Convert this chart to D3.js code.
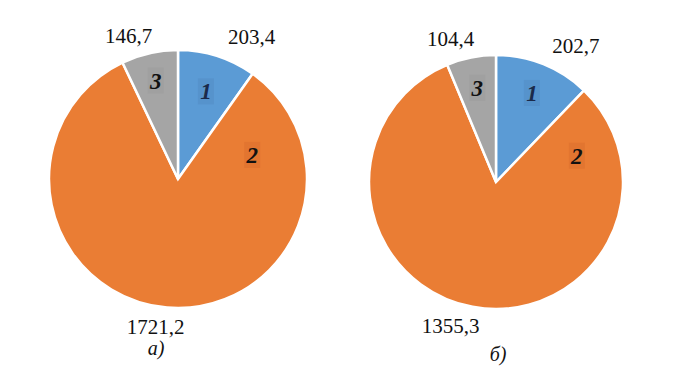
<!DOCTYPE html>
<html>
<head>
<meta charset="utf-8">
<script src="https://cdn.jsdelivr.net/npm/d3@7"></script>
<style>
  body { margin: 0; background: #fff; }
  svg text { font-family: "Liberation Serif", "Times New Roman", serif; }
</style>
</head>
<body>
<div id="wrapper"></div>
<script>
// slices: 1, 2, 3
const sliceNames = ["1", "2", "3"];
const valuesA = [203.4, 1721.2, 146.7];
const valuesB = [202.7, 1355.3, 104.4];
const captions = ["а)", "б)"];
const colors = ["#5b9bd5", "#ea7d34", "#a5a5a5"];
const labelBoxColors = ["#4f86bd", "#d8692a", "#989898"];

const dimension = { width: 687, height: 368 };

const svg = d3.select("#wrapper").append("svg")
    .attr("width", dimension.width)
    .attr("height", dimension.height);

// layout of each pie (centre, radius, label polar placements in degrees from top)
const charts = [
  {
    values: valuesA, caption: captions[0],
    cx: 178, cy: 179, r: 129,
    valuePos: [[27.4, 160], [188.6, 149], [-19, 152]],
    namePos: [null, [72, 78], null],
    nameR: [92, 0, 101],
    captionX: 156, captionY: 355
  },
  {
    values: valuesB, caption: captions[1],
    cx: 496, cy: 182, r: 127,
    valuePos: [[30.4, 158], [197.5, 151], [-17.6, 150]],
    namePos: [null, [72, 85], null],
    nameR: [96, 0, 96],
    captionX: 498, captionY: 361
  }
];

const fmt = v => d3.format(".1f")(v).replace(".", ",");
const polar = (deg, rad) => {
  const a = deg * Math.PI / 180;
  return [Math.sin(a) * rad, -Math.cos(a) * rad];
};

charts.forEach(c => {
  const pie = d3.pie().sort(null).value(d => d);
  const arcs = pie(c.values);
  const arc = d3.arc().innerRadius(0).outerRadius(c.r);

  const g = svg.append("g")
      .attr("transform", `translate(${c.cx},${c.cy})`);

  g.selectAll("path")
    .data(arcs)
    .join("path")
      .attr("d", arc)
      .attr("fill", (d, i) => colors[i])
      .attr("stroke", "#fff")
      .attr("stroke-width", 2.5);

  // value labels outside
  g.selectAll("text.val")
    .data(arcs)
    .join("text")
      .attr("class", "val")
      .attr("x", (d, i) => polar(c.valuePos[i][0], c.valuePos[i][1])[0])
      .attr("y", (d, i) => polar(c.valuePos[i][0], c.valuePos[i][1])[1])
      .attr("dy", "0.35em")
      .attr("text-anchor", "middle")
      .attr("font-size", 21)
      .attr("fill", "#111")
      .text(d => fmt(d.data));

  // slice number labels inside
  arcs.forEach((d, i) => {
    let p;
    if (c.namePos[i]) {
      p = polar(c.namePos[i][0], c.namePos[i][1]);
    } else {
      const mid = (d.startAngle + d.endAngle) / 2 * 180 / Math.PI;
      p = polar(mid, c.nameR[i]);
    }
    g.append("rect")
      .attr("x", p[0] - 8)
      .attr("y", p[1] - 13)
      .attr("width", 16)
      .attr("height", 26)
      .attr("fill", labelBoxColors[i])
      .attr("opacity", 0.4);
    g.append("text")
      .attr("x", p[0])
      .attr("y", p[1])
      .attr("dy", "0.35em")
      .attr("text-anchor", "middle")
      .attr("font-size", 23)
      .attr("font-weight", "bold")
      .attr("font-style", "italic")
      .attr("fill", i === 0 ? "#1b2a4a" : "#111")
      .text(sliceNames[i]);
  });

  svg.append("text")
    .attr("x", c.captionX)
    .attr("y", c.captionY)
    .attr("text-anchor", "middle")
    .attr("font-size", 20)
    .attr("font-style", "italic")
    .attr("fill", "#111")
    .text(c.caption);
});
</script>
</body>
</html>
